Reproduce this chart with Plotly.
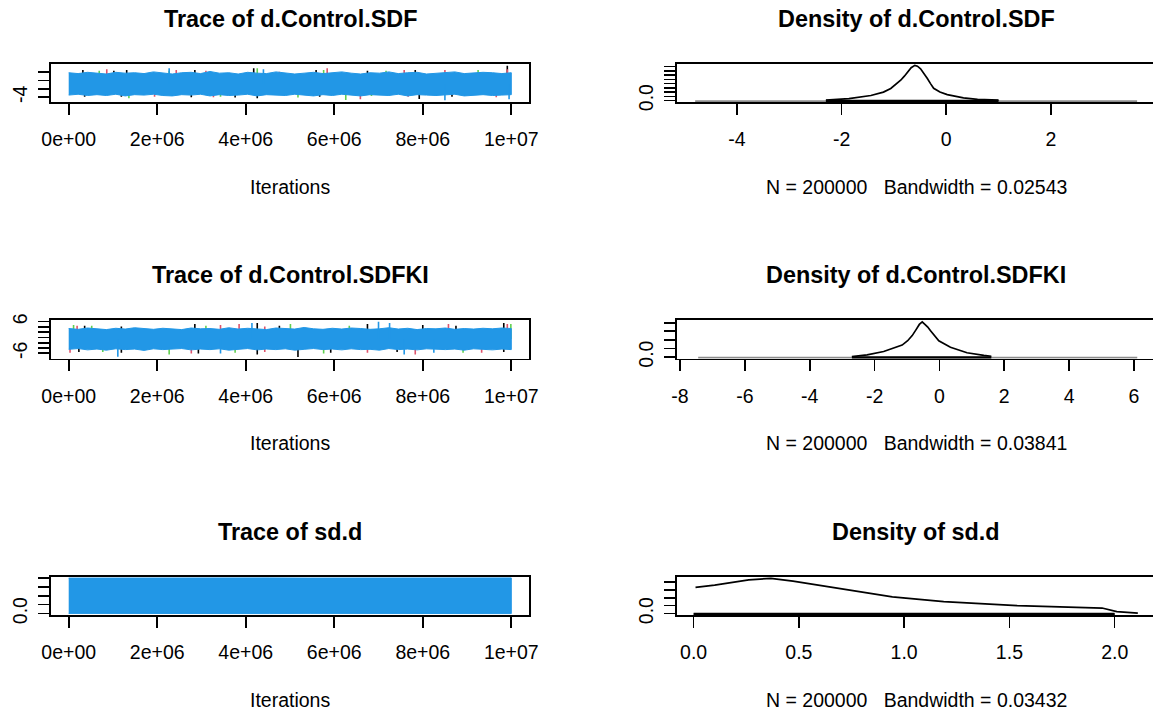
import plotly.graph_objects as go

# ---------------- data ----------------
iter_ticks = [0, 2e6, 4e6, 6e6, 8e6, 1e7]
iter_ticktext = ["0e+00", "2e+06", "4e+06", "6e+06", "8e+06", "1e+07"]

chain_colors = ["#000000", "#DF536B", "#61D04F", "#2297E6"]

# --- d.Control.SDF trace: blue chain envelope (upper / lower), spikes per chain (iteration in 1e6, value)
sdf_blue_hi = [1.8, 1.6, 1.9, 1.7, 1.5, 1.9, 1.7, 1.8, 1.6, 2.0,
               1.7, 1.5, 1.8, 1.9, 1.6, 2.1, 1.7, 1.8, 1.5, 1.9,
               1.7, 1.6, 2.0, 1.8, 1.5, 1.7, 1.9, 1.6, 1.8, 2.0,
               1.7, 1.5, 1.8, 1.7, 2.0, 1.6, 1.8, 1.9, 1.5, 1.7,
               1.8, 2.0, 1.6, 1.7, 1.9, 1.8, 1.6, 1.8]
sdf_blue_lo = [-3.5, -3.3, -3.6, -3.4, -3.6, -3.3, -3.7, -3.4, -3.5, -3.3,
               -3.6, -3.7, -3.4, -3.5, -3.3, -3.7, -3.4, -3.6, -3.5, -3.3,
               -3.7, -3.4, -3.5, -3.6, -3.3, -3.5, -3.7, -3.4, -3.6, -3.3,
               -3.5, -3.7, -3.4, -3.5, -3.6, -3.3, -3.7, -3.4, -3.5, -3.6,
               -3.4, -3.3, -3.7, -3.5, -3.4, -3.6, -3.5, -3.4]
sdf_spike_it = [
    [0.32, 1.02, 1.31, 2.85, 4.18, 5.59, 6.75, 7.83, 9.91, 0.36, 1.19, 2.77, 3.76, 4.26, 5.67, 7.92, 8.66],
    [0.86, 2.43, 3.10, 4.76, 5.84, 7.58, 8.50, 9.91, 1.94, 3.27, 6.59, 7.67, 9.66],
    [0.69, 2.27, 4.26, 5.76, 7.17, 9.25, 1.36, 3.43, 5.18, 6.26, 6.84],
    [2.27, 4.40, 8.50, 9.95],
]
sdf_spike_val = [
    [2.45, 2.29, 2.45, 2.45, 2.85, 2.45, 2.29, 2.45, 3.45, -3.87, -3.87, -4.02, -4.10, -4.26, -3.87, -4.40, -3.87],
    [2.60, 2.45, 2.29, 2.05, 2.85, 2.45, 2.45, 2.60, -3.87, -4.02, -4.49, -3.87, -4.02],
    [2.29, 2.29, 2.85, 2.45, 2.29, 2.45, -4.26, -3.87, -4.10, -4.66, -3.71],
    [2.85, 2.60, -4.75, -4.49],
]
sdf_center = -0.9

# --- d.Control.SDFKI trace
sdfki_blue_hi = [3.4, 3.1, 3.6, 3.3, 3.0, 3.5, 3.2, 3.7, 3.3, 3.1,
                 3.5, 3.2, 3.0, 3.6, 3.3, 3.4, 3.1, 3.7, 3.2, 3.5,
                 3.3, 3.0, 3.6, 3.4, 3.2, 3.8, 3.3, 3.1, 3.5, 3.2,
                 3.6, 3.4, 3.1, 3.3, 3.7, 3.2, 3.5, 3.0, 3.4, 3.3,
                 3.6, 3.1, 3.4, 3.2, 3.5, 3.3, 3.6, 3.4]
sdfki_blue_lo = [-4.5, -4.2, -4.7, -4.4, -4.8, -4.3, -4.6, -4.4, -4.9, -4.3,
                 -4.6, -4.5, -4.2, -4.7, -4.4, -4.6, -4.3, -4.8, -4.5, -4.2,
                 -4.7, -4.4, -4.6, -4.3, -4.8, -4.5, -4.2, -4.6, -4.4, -4.7,
                 -4.3, -4.6, -4.5, -4.8, -4.2, -4.6, -4.4, -4.7, -4.3, -4.5,
                 -4.6, -4.4, -4.8, -4.3, -4.5, -4.7, -4.4, -4.6]
sdfki_spike_it = [
    [0.36, 1.19, 2.85, 4.26, 4.76, 6.75, 8.00, 8.75, 9.83, 0.23, 1.19, 2.93, 4.26, 5.18, 5.92, 7.42, 9.83],
    [0.19, 3.43, 3.85, 4.43, 8.58, 9.91, 0.03, 2.77, 4.43, 6.75, 7.83, 9.33],
    [0.11, 0.52, 3.10, 5.01, 6.34, 9.99, 0.77, 2.27, 3.76, 5.76, 8.91],
    [4.14, 7.00, 7.25, 1.11, 3.43, 7.58, 8.25],
]
sdfki_spike_val = [
    [4.46, 4.21, 5.10, 5.49, 4.46, 5.10, 4.72, 4.46, 5.49, -5.55, -5.79, -6.05, -6.44, -7.40, -5.79, -5.55, -5.55],
    [4.46, 4.72, 5.10, 4.21, 5.10, 5.10, -5.79, -6.05, -5.55, -5.79, -6.44, -5.79],
    [4.72, 4.46, 4.46, 5.10, 4.46, 5.10, -5.55, -6.44, -5.79, -6.05, -5.79],
    [5.49, 6.00, 5.49, -7.33, -6.05, -6.44, -5.79],
]
sdfki_center = -0.6

# --- sd.d trace
sdd_blue_hi = [1.99, 2.0, 1.99, 2.0, 1.99, 2.0, 1.99, 2.0, 1.99, 2.0, 1.99, 2.0]
sdd_blue_lo = [0.01, 0.0, 0.01, 0.0, 0.01, 0.0, 0.01, 0.0, 0.01, 0.0, 0.01, 0.0]
sdd_spike_it = [[], [], [], []]
sdd_spike_val = [[], [], [], []]
sdd_center = 1.0

# --- densities
sdf_dens_x = [-2.3, -1.86, -1.44, -1.2, -1.06, -0.95, -0.87, -0.80, -0.74, -0.67, -0.60,
              -0.55, -0.49, -0.42, -0.36, -0.30, -0.24, -0.12, 0.02, 0.33, 0.6, 1.0]
sdf_dens_y = [0.02, 0.09, 0.24, 0.40, 0.57, 0.78, 0.96, 1.15, 1.35, 1.55, 1.66,
              1.62, 1.50, 1.28, 1.04, 0.80, 0.58, 0.40, 0.28, 0.13, 0.06, 0.02]
sdf_rug = [-4.8, 3.65]
sdf_rug_dense = [-2.3, 1.0]

sdfki_dens_x = [-2.7, -2.23, -1.72, -1.15, -0.98, -0.84, -0.72, -0.62, -0.53, -0.45,
                -0.36, -0.28, -0.15, -0.02, 0.34, 0.85, 1.37, 1.6]
sdfki_dens_y = [0.01, 0.05, 0.13, 0.28, 0.38, 0.50, 0.64, 0.76, 0.82, 0.77,
                0.70, 0.62, 0.50, 0.38, 0.23, 0.10, 0.04, 0.02]
sdfki_rug = [-7.44, 6.1]
sdfki_rug_dense = [-2.7, 1.6]

sdd_dens_x = [0.009, 0.1, 0.262, 0.367, 0.472, 0.664, 0.944, 1.188, 1.537, 1.94, 2.01, 2.11]
sdd_dens_y = [0.66, 0.72, 0.85, 0.89, 0.82, 0.66, 0.42, 0.30, 0.20, 0.14, 0.05, 0.01]
sdd_rug = [0.0, 2.0]
sdd_rug_dense = [0.0, 2.0]

params = [
    dict(name="d.Control.SDF", hi=sdf_blue_hi, lo=sdf_blue_lo, sp_it=sdf_spike_it, sp_val=sdf_spike_val,
         center=sdf_center, ytr=[-5.14, 3.99], ytv=[-4, -2, 0, 2], ytt=["-4", "", "", ""],
         dx=sdf_dens_x, dy=sdf_dens_y, rug=sdf_rug, rugd=sdf_rug_dense,
         dxr=[-5.147, 3.954], dxtv=[-4, -2, 0, 2], dxtt=["-4", "-2", "0", "2"],
         dyr=[-0.0672, 1.747], dytv=[0, 0.2, 0.4, 0.6, 0.8, 1.0, 1.2, 1.4, 1.6],
         bw="0.02543"),
    dict(name="d.Control.SDFKI", hi=sdfki_blue_hi, lo=sdfki_blue_lo, sp_it=sdfki_spike_it, sp_val=sdfki_spike_val,
         center=sdfki_center, ytr=[-7.98, 6.64], ytv=[-6, -4, -2, 0, 2, 4, 6], ytt=["-6", "", "", "", "", "", "6"],
         dx=sdfki_dens_x, dy=sdfki_dens_y, rug=sdfki_rug, rugd=sdfki_rug_dense,
         dxr=[-8.093, 6.586], dxtv=[-8, -6, -4, -2, 0, 2, 4, 6], dxtt=["-8", "-6", "-4", "-2", "0", "2", "4", "6"],
         dyr=[-0.0332, 0.8632], dytv=[0, 0.2, 0.4, 0.6, 0.8],
         bw="0.03841"),
    dict(name="sd.d", hi=sdd_blue_hi, lo=sdd_blue_lo, sp_it=sdd_spike_it, sp_val=sdd_spike_val,
         center=sdd_center, ytr=[-0.08, 2.08], ytv=[0, 0.5, 1.0, 1.5, 2.0], ytt=["0.0", "", "", "", ""],
         dx=sdd_dens_x, dy=sdd_dens_y, rug=sdd_rug, rugd=sdd_rug_dense,
         dxr=[-0.0789, 2.182], dxtv=[0, 0.5, 1.0, 1.5, 2.0], dxtt=["0.0", "0.5", "1.0", "1.5", "2.0"],
         dyr=[-0.036, 0.936], dytv=[0, 0.2, 0.4, 0.6, 0.8],
         bw="0.03432"),
]
N_SAMPLES = "200000"

# ---------------- layout geometry (pixels) ----------------
W, H = 1153, 716
PITCH = 256.5
BOX_TOP, BOX_BOT = 63.5, 102.0
TITLE_Y, XLAB_Y = 18.5, 187.0
LEFT_X = (51, 529)
RIGHT_X = (677, 1153)
FONT = "Liberation Sans, Arial, sans-serif"
TICK_FS = 19.5
LW = 1.6


def fx(px):
    return px / W


def fy(py):
    return 1 - py / H


fig = go.Figure()
layout = dict(
    width=W, height=H, margin=dict(l=0, r=0, t=0, b=0, pad=0, autoexpand=False),
    paper_bgcolor="white", plot_bgcolor="white", showlegend=False, hovermode=False,
    font=dict(family=FONT, size=TICK_FS, color="black"),
    annotations=[],
)


def axis_common():
    return dict(showgrid=False, zeroline=False, showline=True, linecolor="black", linewidth=LW,
                ticks="outside", ticklen=11, tickwidth=LW, tickcolor="black", automargin=False,
                tickfont=dict(family=FONT, size=TICK_FS, color="black"), fixedrange=True)


for r, p in enumerate(params):
    top = BOX_TOP + PITCH * r
    bot = BOX_BOT + PITCH * r
    ia = 2 * r + 1
    ib = 2 * r + 2
    xa, ya = f"x{ia}", f"y{ia}"
    xb, yb = f"x{ib}", f"y{ib}"

    # ---- trace panel ----
    for c in range(3):
        xs, ys = [], []
        for it, v in zip(p["sp_it"][c], p["sp_val"][c]):
            xs += [it * 1e6, it * 1e6, None]
            ys += [p["center"], v, None]
        if xs:
            fig.add_trace(go.Scatter(x=xs, y=ys, mode="lines", line=dict(color=chain_colors[c], width=1.6),
                                     xaxis=xa, yaxis=ya))
    K = len(p["hi"])
    its = [i * 1e7 / (K - 1) for i in range(K)]
    fig.add_trace(go.Scatter(x=its + its[::-1], y=p["hi"] + p["lo"][::-1], mode="lines", fill="toself",
                             fillcolor=chain_colors[3], line=dict(color=chain_colors[3], width=1),
                             xaxis=xa, yaxis=ya))
    xs, ys = [], []
    for it, v in zip(p["sp_it"][3], p["sp_val"][3]):
        xs += [it * 1e6, it * 1e6, None]
        ys += [p["center"], v, None]
    if xs:
        fig.add_trace(go.Scatter(x=xs, y=ys, mode="lines", line=dict(color=chain_colors[3], width=1.6),
                                 xaxis=xa, yaxis=ya))

    axx = axis_common()
    axx.update(domain=[fx(LEFT_X[0]), fx(LEFT_X[1])], range=[-0.4e6, 10.4e6], mirror=True,
               tickvals=iter_ticks, ticktext=iter_ticktext, anchor=ya, ticklabelstandoff=8)
    axy = axis_common()
    axy.update(domain=[fy(bot), fy(top)], range=p["ytr"], mirror=True, tickvals=p["ytv"], ticktext=p["ytt"],
               tickangle=-90, anchor=xa, ticklabelstandoff=4)
    layout["xaxis" if ia == 1 else f"xaxis{ia}"] = axx
    layout["yaxis" if ia == 1 else f"yaxis{ia}"] = axy

    # ---- density panel ----
    rug_y = p["dyr"][0] * 0.5  # rug ticks sit on the lower box edge
    fig.add_trace(go.Scatter(x=p["rug"], y=[rug_y, rug_y], mode="lines", line=dict(color="#8c8c8c", width=2),
                             xaxis=xb, yaxis=yb))
    fig.add_trace(go.Scatter(x=p["rugd"], y=[rug_y, rug_y], mode="lines", line=dict(color="black", width=3),
                             xaxis=xb, yaxis=yb))
    fig.add_trace(go.Scatter(x=p["dx"], y=p["dy"], mode="lines", line=dict(color="black", width=1.7),
                             xaxis=xb, yaxis=yb))
    bxx = axis_common()
    bxx.update(domain=[fx(RIGHT_X[0]), fx(RIGHT_X[1])], range=p["dxr"], mirror=True,
               tickvals=p["dxtv"], ticktext=p["dxtt"], anchor=yb, ticklabelstandoff=8)
    byy = axis_common()
    byy.update(domain=[fy(bot), fy(top)], range=p["dyr"], mirror=False, tickvals=p["dytv"],
               ticktext=["0.0"] + [""] * (len(p["dytv"]) - 1), tickangle=-90, anchor=xb, ticklabelstandoff=4)
    layout[f"xaxis{ib}"] = bxx
    layout[f"yaxis{ib}"] = byy

    # ---- titles and axis labels ----
    cl = (LEFT_X[0] + LEFT_X[1]) / 2
    cr = (RIGHT_X[0] + 1155) / 2
    ty = TITLE_Y + PITCH * r
    ly = XLAB_Y + PITCH * r
    layout["annotations"] += [
        dict(text=f"<b>Trace of {p['name']}</b>", x=fx(cl), y=fy(ty), xref="paper", yref="paper",
             showarrow=False, xanchor="center", yanchor="middle", font=dict(family=FONT, size=23.4)),
        dict(text=f"<b>Density of {p['name']}</b>", x=fx(cr), y=fy(ty), xref="paper", yref="paper",
             showarrow=False, xanchor="center", yanchor="middle", font=dict(family=FONT, size=23.4)),
        dict(text="Iterations", x=fx(cl), y=fy(ly), xref="paper", yref="paper",
             showarrow=False, xanchor="center", yanchor="middle", font=dict(family=FONT, size=TICK_FS)),
        dict(text=f"N = {N_SAMPLES}\u00a0\u00a0 Bandwidth = {p['bw']}", x=fx(cr), y=fy(ly),
             xref="paper", yref="paper", showarrow=False, xanchor="center", yanchor="middle",
             font=dict(family=FONT, size=TICK_FS)),
    ]

fig.update_layout(**layout)
fig.write_html("out.html", config=dict(displayModeBar=False, staticPlot=True),
               post_script="document.body.style.margin='0px';document.body.style.overflow='hidden';")
